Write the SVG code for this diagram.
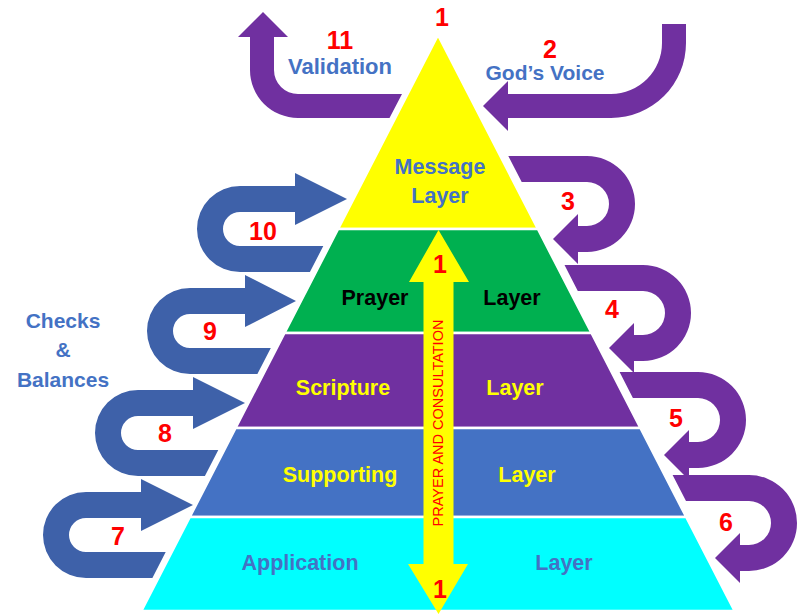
<svg xmlns="http://www.w3.org/2000/svg" width="798" height="616" viewBox="0 0 798 616">
<style>
text{font-family:"Liberation Sans",Arial,sans-serif;font-weight:bold;text-anchor:middle}
.lbl{font-size:21.5px}
.num{font-size:25px;fill:#FF0000}
.blue{fill:#4472C4}
.yel{fill:#FFFF00}
.blk{fill:#000000}
.layer{stroke:#FFFFFF;stroke-width:2.5;stroke-linejoin:miter}
.pa{fill:#7030A0}
.ba{fill:#3E61A9}
</style>
<rect width="798" height="616" fill="#FFFFFF"/>

<g id="connectors">
  <!-- 11 Validation (bent up) -->
  <path class="pa" d="M402 94 L298 94 A24 24 0 0 1 274 70 L274 37 L288 37 L263 12 L238 37 L250 37 L250 70 A48 48 0 0 0 298 118 L389.5 118 Z"/>
  <!-- 2 God's Voice -->
  <path class="pa" d="M662 24 L686 24 L686 43 A75 75 0 0 1 611 118 L508 118 L508 131 L483 106 L508 81 L508 94 L611 94 A51 51 0 0 0 662 43 Z"/>
  <!-- right purple U arrows -->
  <path class="pa" d="M508.3 156 L587 156 A48 48 0 0 1 587 252 L578 252 L578 264 L553 239 L578 214 L578 226 L587 226 A22 22 0 0 0 587 182 L521.7 182 Z"/>
  <path class="pa" d="M564.5 265 L643 265 A48 48 0 0 1 643 361 L634 361 L634 373 L609 348 L634 323 L634 335 L643 335 A22 22 0 0 0 643 291 L577.8 291 Z"/>
  <path class="pa" d="M619.6 372 L698 372 A48 48 0 0 1 698 468 L689 468 L689 480 L664 455 L689 430 L689 442 L698 442 A22 22 0 0 0 698 398 L632.9 398 Z"/>
  <path class="pa" d="M672.6 475 L749 475 A48 48 0 0 1 749 571 L740 571 L740 583 L715 558 L740 533 L740 545 L749 545 A22 22 0 0 0 749 501 L686 501 Z"/>
  <!-- left blue U arrows -->
  <path class="ba" d="M323.3 246 L240 246 A17 17 0 0 1 240 212 L295 212 L295 225 L347 199 L295 173 L295 186 L240 186 A43 43 0 0 0 240 272 L309.9 272 Z"/>
  <path class="ba" d="M270.8 348 L190 348 A17 17 0 0 1 190 314 L245 314 L245 327 L296 301 L245 275 L245 288 L190 288 A43 43 0 0 0 190 374 L257.4 374 Z"/>
  <path class="ba" d="M218.3 450 L138 450 A17 17 0 0 1 138 416 L193 416 L193 429 L245 403 L193 377 L193 390 L138 390 A43 43 0 0 0 138 476 L204.9 476 Z"/>
  <path class="ba" d="M165.7 552 L86 552 A17 17 0 0 1 86 518 L141 518 L141 531 L193 505 L141 479 L141 492 L86 492 A43 43 0 0 0 86 578 L152.4 578 Z"/>
  <!-- connector labels -->
  <text class="num" x="340" y="49">11</text>
  <text class="num" x="550" y="58">2</text>
  <text class="num" x="568" y="210">3</text>
  <text class="num" x="612" y="318">4</text>
  <text class="num" x="676" y="427">5</text>
  <text class="num" x="726" y="531">6</text>
  <text class="num" x="118" y="545">7</text>
  <text class="num" x="165" y="442">8</text>
  <text class="num" x="210" y="340">9</text>
  <text class="num" x="263" y="240">10</text>
</g>

<g id="message-layer">
  <polygon class="layer" fill="#FFFF00" points="438,35 537.9,229 338.1,229"/>
  <text class="lbl blue" x="440" y="174">Message</text>
  <text class="lbl blue" x="440" y="203">Layer</text>
</g>
<g id="prayer-layer">
  <polygon class="layer" fill="#00B050" points="338.1,229 537.9,229 591.5,333 284.5,333"/>
  <text class="lbl blk" x="375" y="305">Prayer</text>
  <text class="lbl blk" x="512" y="305">Layer</text>
</g>
<g id="scripture-layer">
  <polygon class="layer" fill="#7030A0" points="284.5,333 591.5,333 640.4,428 235.6,428"/>
  <text class="lbl yel" x="343" y="395">Scripture</text>
  <text class="lbl yel" x="515" y="395">Layer</text>
</g>
<g id="supporting-layer">
  <polygon class="layer" fill="#4472C4" points="235.6,428 640.4,428 686.2,517 189.8,517"/>
  <text class="lbl yel" x="340" y="482">Supporting</text>
  <text class="lbl yel" x="527" y="482">Layer</text>
</g>
<g id="application-layer">
  <polygon class="layer" fill="#00FFFF" points="189.8,517 686.2,517 734.6,611 141.4,611"/>
  <text class="lbl blue" x="300" y="570">Application</text>
  <text class="lbl blue" x="564" y="570">Layer</text>
</g>

<g id="prayer-consultation">
  <polygon fill="#FFFF00" points="438.5,230 469,282 453.5,282 453.5,564 468,564 438.5,614 408,564 423.5,564 423.5,282 409,282"/>
  <text transform="translate(443,423) rotate(-90)" x="0" y="0" style="font-weight:normal;font-size:14.5px;fill:#FF0000">PRAYER AND CONSULTATION</text>
  <text class="num" x="440" y="273">1</text>
  <text class="num" x="440" y="598">1</text>
</g>

<g id="top-label">
  <text class="num" x="442" y="26">1</text>
</g>
<g id="validation-label">
  <text class="blue" x="340" y="74" style="font-size:22px">Validation</text>
</g>
<g id="gods-voice-label">
  <text class="blue" x="545" y="80" style="font-size:21px">God’s Voice</text>
</g>
<g id="checks-balances-label">
  <text class="blue" x="63" y="328" style="font-size:21px">Checks</text>
  <text class="blue" x="63" y="357" style="font-size:21px">&amp;</text>
  <text class="blue" x="63" y="387" style="font-size:21px">Balances</text>
</g>
</svg>
